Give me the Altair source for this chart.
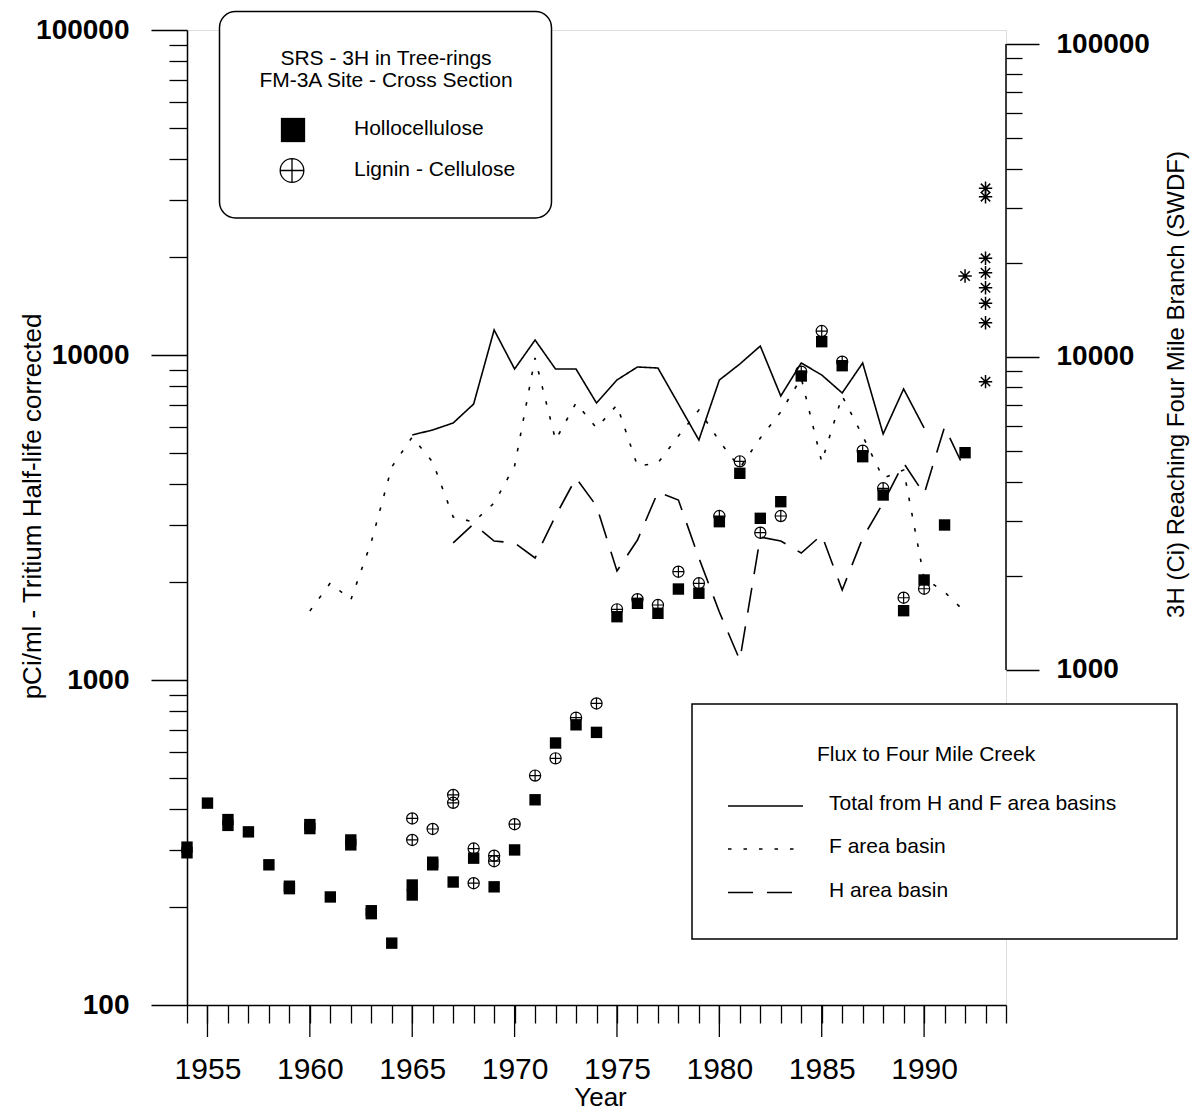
import altair as alt
import pandas as pd

# ---------------- data ----------------
holo_years = [1954, 1954, 1955, 1956, 1956, 1957, 1958, 1959, 1959, 1960, 1960, 1961,
              1962, 1962, 1963, 1963, 1964, 1965, 1965, 1966, 1966, 1967, 1968, 1969,
              1970, 1971, 1972, 1973, 1974, 1975, 1976, 1977, 1978, 1979, 1980, 1981,
              1982, 1983, 1984, 1985, 1986, 1987, 1988, 1989, 1990, 1991, 1992]
holo_vals = [306, 294, 418, 372, 357, 341, 270, 232, 228, 359, 349, 215,
             322, 311, 195, 191, 155, 234, 218, 275, 270, 239, 283, 231,
             300, 428, 640, 728, 690, 1566, 1722, 1604, 1905, 1849, 3070, 4325,
             3144, 3537, 8619, 10990, 9271, 4865, 3709, 1634, 2031, 2999, 5005]

lig_years = [1965, 1965, 1966, 1967, 1967, 1968, 1968, 1969, 1969, 1970, 1971, 1972,
             1973, 1974, 1975, 1976, 1977, 1978, 1979, 1980, 1981, 1982, 1983, 1984,
             1985, 1986, 1987, 1988, 1989, 1990]
lig_vals = [375, 322, 348, 443, 419, 303, 237, 288, 277, 360, 508, 574,
            766, 847, 1650, 1772, 1701, 2154, 1984, 3196, 4708, 2839, 3196, 8885,
            11850, 9537, 5077, 3889, 1791, 1909]

swdf_years = [1993, 1993, 1993, 1993, 1993, 1993, 1993, 1993, 1992]
swdf_vals = [32580, 30700, 19840, 17910, 16100, 14420, 12570, 8280, 17500]

total_years = list(range(1965, 1991))
total_vals = [5635, 5846, 6154, 7076, 12200, 9155, 11330, 9150, 9150, 7129, 8444, 9292,
              9223, 7080, 5429, 8440, 9497, 10840, 7506, 9567, 8760, 7674, 9570, 5675,
              7905, 5933]
f_years = list(range(1960, 1993))
f_vals = [1544, 1897, 1674, 2564, 4452, 5550, 4618, 3082, 2971, 3416, 4485, 9926,
          5429, 7130, 5933, 7024, 4485, 4584, 5592, 6771, 5390, 4419, 5510, 6672,
          8570, 4618, 7506, 5592, 4106, 4355, 1967, 1775, 1532]
h_years = list(range(1967, 1993))
h_vals = [2546, 2928, 2583, 2546, 2280, 3105, 4106, 3342, 2072, 2602, 3704, 3492,
          2280, 1532, 1076, 2660, 2583, 2365, 2700, 1801, 2641, 3416, 4584, 3650,
          5977, 4355]

series_names = ["Total from H and F area basins", "F area basin", "H area basin"]
legend1_title = ["SRS - 3H in Tree-rings", "FM-3A Site - Cross Section"]
legend1_labels = ["Hollocellulose", "Lignin - Cellulose"]
legend2_title = "Flux to Four Mile Creek"
x_title = "Year"
left_title = "pCi/ml - Tritium Half-life corrected"
right_title = "3H (Ci) Reaching Four Mile Branch (SWDF)"

x_ticks = list(range(1954, 1995))
x_major_ticks = [1955, 1960, 1965, 1970, 1975, 1980, 1985, 1990]
left_ticks = [m * 10 ** e for e in range(2, 5) for m in range(1, 10)] + [100000]
right_ticks = [m * 10 ** e for e in range(3, 5) for m in range(1, 10)] + [100000]

# ---------------- frames ----------------
holo_df = pd.DataFrame({"year": holo_years, "value": holo_vals})
lig_df = pd.DataFrame({"year": lig_years, "value": lig_vals})
swdf_df = pd.DataFrame({"year": swdf_years, "value": swdf_vals})
major_df = pd.DataFrame({"year": x_major_ticks})
flux_df = pd.concat([
    pd.DataFrame({"year": total_years, "value": total_vals, "series": series_names[0]}),
    pd.DataFrame({"year": f_years, "value": f_vals, "series": series_names[1]}),
    pd.DataFrame({"year": h_years, "value": h_vals, "series": series_names[2]}),
], ignore_index=True)

# ---------------- styling ----------------
W, H = 819, 975
SANS = "Liberation Sans"
CIRCLE_PLUS = "M-1,0A1,1,0,1,1,1,0A1,1,0,1,1,-1,0M-1,0L1,0M0,-1L0,1"
ASTERISK = "M-1,0L1,0M0,-1L0,1M-0.7,-0.7L0.7,0.7M-0.7,0.7L0.7,-0.7"
MAJ_LOG = "abs(log(datum.value)/LN10 - round(log(datum.value)/LN10)) < 0.001"

xs = alt.Scale(domain=[1954, 1994], nice=False, zero=False)
ls = alt.Scale(type="log", domain=[100, 100000], nice=False)
rs = alt.Scale(type="log", domain=[85.04, 110850], nice=False)

x_axis = alt.Axis(
    values=x_ticks, format="d", labelExpr="datum.value % 5 == 0 ? datum.label : ''",
    tickSize=18, labelFlush=False, labelOverlap=False, labelPadding=31,
    labelFont=SANS, labelFontSize=30, labelColor="black",
    domainColor="black", domainWidth=1.5, tickColor="black", tickWidth=1.3,
    grid=False, title=x_title, titleFont=SANS, titleFontSize=26,
    titleFontWeight="normal", titleX=413, titleY=92, titleBaseline="middle",
    titleColor="black")

left_axis = alt.Axis(
    values=left_ticks, labelExpr=f"({MAJ_LOG}) ? format(datum.value, 'd') : ''",
    tickSize={"condition": {"test": MAJ_LOG, "value": 36}, "value": 18},
    labelOverlap=False, labelFlush=False, labelPadding=22,
    labelFont=SANS, labelFontWeight="bold", labelFontSize=28, labelColor="black",
    domainColor="black", domainWidth=1.5, tickColor="black", tickWidth=1.3,
    grid=False, title=left_title, titleFont=SANS, titleFontSize=26,
    titleFontWeight="normal", titleAngle=270, titleX=-155, titleY=476,
    titleBaseline="middle", titleColor="black")

right_axis = alt.Axis(
    orient="right", values=right_ticks, domain=False,
    labelExpr=f"({MAJ_LOG}) ? format(datum.value, 'd') : ''",
    tickSize={"condition": {"test": MAJ_LOG, "value": 33}, "value": 16},
    labelOverlap=False, labelFlush=False, labelPadding=17,
    labelFont=SANS, labelFontWeight="bold", labelFontSize=28, labelColor="black",
    tickColor="black", tickWidth=1.3, grid=False,
    title=right_title, titleFont=SANS, titleFontSize=24,
    titleFontWeight="normal", titleAngle=270, titleX=170, titleY=354,
    titleBaseline="middle", titleColor="black")

X = alt.X("year:Q", scale=xs, axis=x_axis)
YL = alt.Y("value:Q", scale=ls, axis=left_axis)

squares = alt.Chart(holo_df).mark_point(
    shape="square", filled=True, size=130, color="black", opacity=1
).encode(x=X, y=YL)

circles = alt.Chart(lig_df).mark_point(
    shape=CIRCLE_PLUS, filled=False, size=125, color="black", strokeWidth=1.2, opacity=1
).encode(x=X, y=YL)

stars = alt.Chart(swdf_df).mark_point(
    shape=ASTERISK, filled=False, size=180, color="black", strokeWidth=1.5, opacity=1
).encode(x=X, y=YL)

major_ticks = alt.Chart(major_df).mark_rule(color="black", strokeWidth=1.3).encode(
    x=X, y=alt.value(H), y2=alt.value(H + 32))

lines = alt.Chart(flux_df).mark_line(color="black", strokeWidth=1.6).encode(
    x=X,
    y=alt.Y("value:Q", scale=rs, axis=right_axis),
    strokeDash=alt.StrokeDash("series:N", scale=alt.Scale(
        domain=series_names, range=[[1, 0], [3.5, 12], [25, 14]]), legend=None),
    detail="series:N",
)

one = pd.DataFrame({"k": [0]})
right_line = alt.Chart(one).mark_rule(color="black", strokeWidth=1.5).encode(
    x=alt.XDatum(1994, scale=xs, axis=x_axis),
    y=alt.YDatum(1000, scale=rs, axis=right_axis),
    y2=alt.Y2Datum(100000),
)


def label(s, x, y, align="left", size=21):
    return alt.Chart(pd.DataFrame({"t": [s]})).mark_text(
        align=align, baseline="middle", font=SANS, fontSize=size, color="black"
    ).encode(text="t:N", x=alt.value(x), y=alt.value(y))


box1 = alt.Chart(one).mark_rect(
    fill="white", stroke="black", strokeWidth=1.5, cornerRadius=16
).encode(x=alt.value(32.5), x2=alt.value(364.5), y=alt.value(-18.5), y2=alt.value(188))
box2 = alt.Chart(one).mark_rect(
    fill="white", stroke="black", strokeWidth=1.5
).encode(x=alt.value(505), x2=alt.value(990), y=alt.value(674), y2=alt.value(909))

leg_sq = alt.Chart(one).mark_point(
    shape="square", filled=True, size=590, color="black", opacity=1
).encode(x=alt.value(106), y=alt.value(100))
leg_ci = alt.Chart(one).mark_point(
    shape=CIRCLE_PLUS, filled=False, size=560, color="black", strokeWidth=1.3, opacity=1
).encode(x=alt.value(105), y=alt.value(140.5))

dashes = [[1, 0], [3.5, 12], [25, 14]]
leg_rows_y = [776, 819, 862.5]
leg_rules = [
    alt.Chart(one).mark_rule(color="black", strokeWidth=1.6, strokeDash=d).encode(
        x=alt.value(541), x2=alt.value(616), y=alt.value(yy))
    for d, yy in zip(dashes, leg_rows_y)
]
leg_texts = [label(s, 642, yy - 2, size=21) for s, yy in zip(series_names, leg_rows_y)]

left_group = alt.layer(
    box1, box2, major_ticks, squares, circles, stars,
    label(legend1_title[0], 199, 28.5, align="center"),
    label(legend1_title[1], 199, 51, align="center"),
    leg_sq, leg_ci,
    label(legend1_labels[0], 167, 98.5),
    label(legend1_labels[1], 167, 140),
    label(legend2_title, 630, 725),
    *leg_rules, *leg_texts,
)
right_group = alt.layer(lines, right_line)

chart = alt.layer(left_group, right_group).resolve_scale(y="independent").properties(
    width=W, height=H,
    padding={"left": 187, "top": 30, "right": 190, "bottom": 109},
    autosize=alt.AutoSizeParams(type="none"),
).configure_view(stroke="transparent").configure(background="white")

chart.save("out.html", embed_options={"renderer": "svg", "actions": False})
